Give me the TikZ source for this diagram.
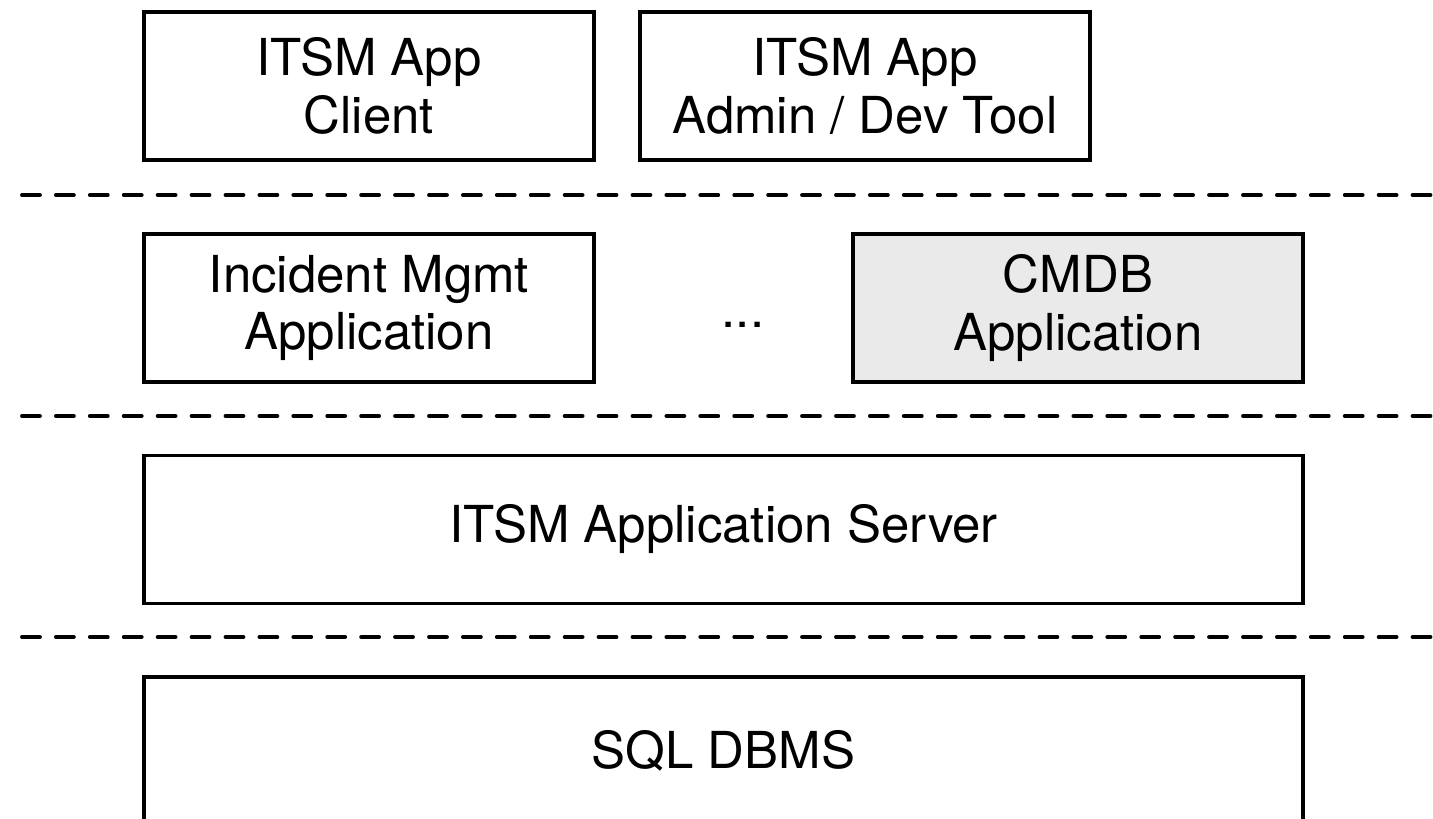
\documentclass[tikz,border=0pt]{standalone}
\usepackage{fontspec}
\setmainfont{TeX Gyre Heros}
\usetikzlibrary{positioning}
\definecolor{cmdbgray}{RGB}{234,234,234}

\begin{document}
\begin{tikzpicture}[
    layer/.style={draw, line width=2pt, align=center, inner sep=0pt,
      minimum width=9cm, minimum height=2.96cm, font=\fontsize{29}{32.8}\selectfont},
    wide/.style={layer, minimum width=23.18cm},
    tier/.style={line width=2.2pt, line cap=round, dash pattern=on 10.2pt off 9.1pt}]
    \useasboundingbox (0,0) rectangle (28.66,-16.36);

    \node[layer] (client) at (7.38,-1.72) {ITSM App\\Client};
    \node[layer] (admin) at (17.30,-1.72) {ITSM App\\Admin / Dev Tool};
    \draw[tier] (0.44,-3.9) -- (28.8,-3.9);

    \node[layer] (incident) at (7.38,-6.16) {Incident Mgmt\\Application};
    \node[font=\fontsize{29}{32.8}\selectfont] (more) at (14.86,-6.50) {...};
    \node[layer, fill=cmdbgray] (cmdb) at (21.56,-6.16) {CMDB\\Application};
    \draw[tier] (0.44,-8.32) -- (28.8,-8.32);

    \node[wide] (server) at (14.47,-10.59) {ITSM Application Server};
    \draw[tier] (0.44,-12.74) -- (28.8,-12.74);

    \node[wide] (dbms) at (14.47,-15.02) {SQL DBMS};
  \end{tikzpicture}
\end{document}
